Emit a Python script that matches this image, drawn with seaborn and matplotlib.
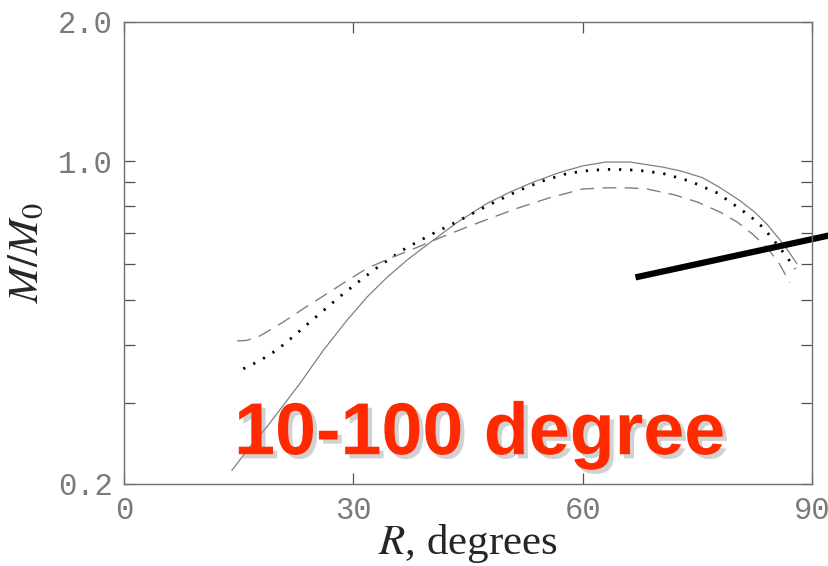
import matplotlib
matplotlib.use("Agg")
import matplotlib.pyplot as plt
import matplotlib.patheffects as pe
from matplotlib.ticker import FixedLocator, NullFormatter, FixedFormatter
import seaborn as sns
import pandas as pd

# curves (R in degrees, M/M0)
solid_r = [14.1, 16.4, 18.7, 20.9, 23.0, 26.1, 29.2, 31.8, 34.4, 37.0, 39.6, 43.5, 47.5, 50.5,
           53.5, 57.0, 60.0, 63.0, 66.2, 70.5, 73.0, 75.7, 78.0, 80.6, 82.5, 84.1, 85.8, 87.0, 88.0]
solid_m = [0.214, 0.24, 0.266, 0.297, 0.33, 0.39, 0.453, 0.508, 0.56, 0.61, 0.658, 0.735, 0.81, 0.857,
           0.90, 0.945, 0.976, 0.995, 0.995, 0.97, 0.95, 0.92, 0.875, 0.82, 0.775, 0.73, 0.675, 0.635, 0.60]

dotted_r = [15.6, 17.8, 20.0, 22.2, 24.3, 26.3, 28.3, 30.5, 32.6, 34.8, 37.0, 40.3, 43.6, 47.5, 51.4,
            54.7, 58.0, 61.0, 64.0, 67.3, 70.5, 74.0, 77.6, 80.0, 81.9, 83.5, 84.8, 86.7, 87.8]
dotted_m = [0.355, 0.37, 0.39, 0.418, 0.448, 0.478, 0.51, 0.545, 0.58, 0.615, 0.65, 0.695, 0.74, 0.80, 0.86,
            0.905, 0.94, 0.955, 0.96, 0.955, 0.94, 0.905, 0.853, 0.80, 0.76, 0.72, 0.68, 0.62, 0.585]

dashed_r = [14.8, 16.0, 17.5, 19.0, 20.8, 23.7, 26.6, 29.2, 31.8, 35.0, 38.3, 41.6, 44.9, 48.2, 51.4,
            55.7, 60.0, 63.2, 66.0, 68.4, 72.0, 75.0, 78.0, 80.2, 82.2, 84.1, 85.7, 87.1]
dashed_m = [0.408, 0.409, 0.416, 0.43, 0.448, 0.482, 0.517, 0.551, 0.586, 0.618, 0.65, 0.685, 0.72, 0.755, 0.79,
            0.833, 0.87, 0.875, 0.875, 0.87, 0.845, 0.815, 0.775, 0.738, 0.695, 0.65, 0.60, 0.545]

# annotation pointer (drawn past the right edge)
pointer_r = [66.9, 92.2]
pointer_m = [0.56, 0.69]

x_ticks = [0, 30, 60, 90]
y_ticks = [0.2, 1.0, 2.0]
y_tick_labels = ["0.2", "1.0", "2.0"]
y_minor = [0.3, 0.4, 0.5, 0.6, 0.7, 0.8, 0.9]

sns.set_style("ticks")
plt.rcParams["mathtext.fontset"] = "stix"

fig = plt.figure(figsize=(8.29, 5.66), dpi=100)
ax = fig.add_axes([0.1496, 0.1449, 0.83, 0.8163])

solid = pd.DataFrame({"R": solid_r, "M": solid_m})
dotted = pd.DataFrame({"R": dotted_r, "M": dotted_m})
dashed = pd.DataFrame({"R": dashed_r, "M": dashed_m})

sns.lineplot(data=solid, x="R", y="M", ax=ax, color="#808080", lw=0.9, sort=False)
sns.lineplot(data=dotted, x="R", y="M", ax=ax, color="black", lw=2.0,
             linestyle=(0, (0.8, 3.2)), sort=False)
sns.lineplot(data=dashed, x="R", y="M", ax=ax, color="#808080", lw=1.0,
             linestyle=(0, (10, 6)), sort=False)

ax.plot(pointer_r, pointer_m, color="black", lw=4.5, clip_on=False,
        solid_capstyle="butt")

ax.set_yscale("log")
ax.set_xlim(0, 90)
ax.set_ylim(0.2, 2.0)

ax.xaxis.set_major_locator(FixedLocator(x_ticks))
ax.yaxis.set_major_locator(FixedLocator(y_ticks))
ax.yaxis.set_major_formatter(FixedFormatter(y_tick_labels))
ax.yaxis.set_minor_locator(FixedLocator(y_minor))
ax.yaxis.set_minor_formatter(NullFormatter())

for side in ["left", "right", "top", "bottom"]:
    ax.spines[side].set_color("#707070")
    ax.spines[side].set_linewidth(1.0)

ax.tick_params(axis="both", which="both", direction="in", color="#505050",
               width=0.9, top=True, right=True)
ax.tick_params(axis="both", which="major", length=8)
ax.tick_params(axis="y", which="minor", length=8)
ax.tick_params(axis="y", which="major", pad=8)
ax.tick_params(axis="x", which="major", pad=9)

for lab in ax.get_xticklabels() + ax.get_yticklabels():
    lab.set_fontfamily("Liberation Mono")
    lab.set_fontsize(22)
    lab.set_color("#7a7a7a")

ax.set_xlabel(r"$R$, degrees", fontsize=31, fontfamily="Liberation Serif",
              labelpad=-3)
ax.set_ylabel(r"$M/M_{\mathit{0}}$", fontsize=31, labelpad=8)

ax.text(46.5, 0.232, "10-100 degree", fontsize=53, fontweight="bold",
        fontfamily="Liberation Sans", color="#ff2a00", ha="center",
        va="baseline",
        path_effects=[pe.withSimplePatchShadow(offset=(3, -3),
                                               shadow_rgbFace="#999999",
                                               alpha=0.45)])

fig.savefig("out.png", dpi=100)
